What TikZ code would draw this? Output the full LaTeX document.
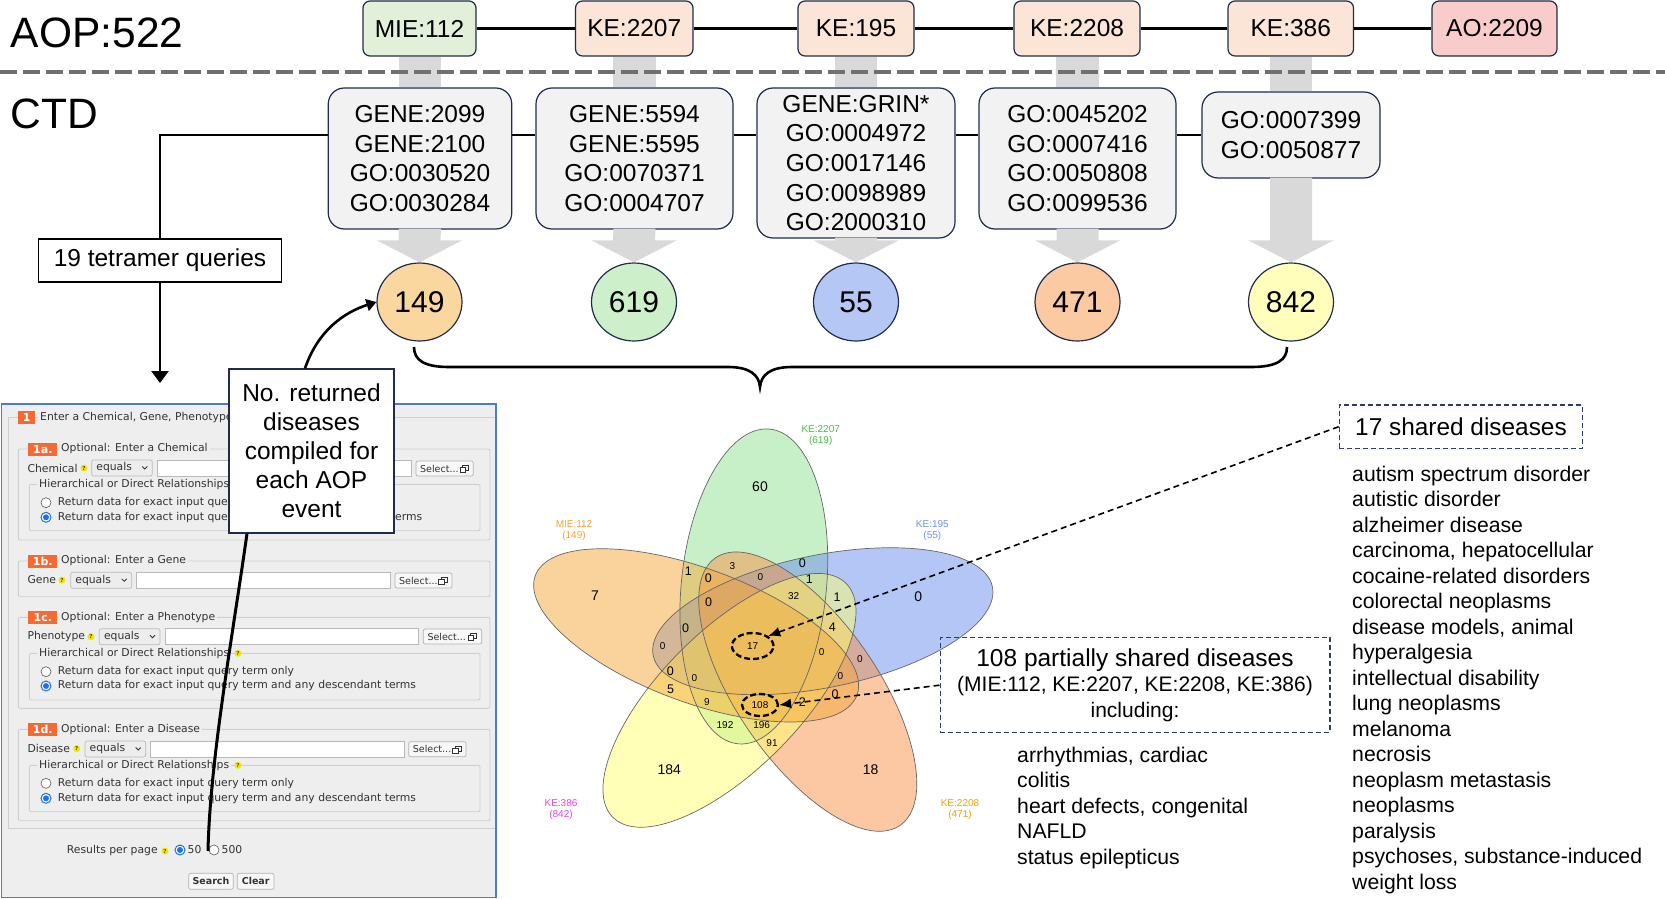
\documentclass[tikz,border=0pt]{standalone}
\usepackage{fontspec}
\setmainfont{Liberation Sans}
\newfontfamily\formfont{DejaVu Sans}
\usetikzlibrary{shapes.geometric,arrows.meta,calc}
\definecolor{navy}{HTML}{1F2D4D}
\definecolor{dnavy}{HTML}{2E3D66}
\definecolor{mieg}{HTML}{E2F0D9}
\definecolor{kepe}{HTML}{FBE5D6}
\definecolor{aopk}{HTML}{F9CCCC}
\definecolor{ctdg}{HTML}{F2F2F2}
\definecolor{garr}{HTML}{D9D9D9}
\definecolor{dashg}{HTML}{707070}
\definecolor{c149}{HTML}{FAD79F}
\definecolor{c619}{HTML}{CDF0CA}
\definecolor{c55}{HTML}{B5C8F5}
\definecolor{c471}{HTML}{FBC9A2}
\definecolor{c842}{HTML}{FFFFBB}
\definecolor{vmie}{HTML}{F5A83A}
\definecolor{vgreen}{HTML}{91E191}
\definecolor{vblue}{HTML}{698DED}
\definecolor{vyel}{HTML}{FFFF71}
\definecolor{vpea}{HTML}{F79147}
\definecolor{lmie}{HTML}{F5A030}
\definecolor{lgreen}{HTML}{44C044}
\definecolor{lblue}{HTML}{6F90EF}
\definecolor{lmag}{HTML}{E840E8}
\definecolor{lgold}{HTML}{E3A40C}
\definecolor{formbg}{HTML}{EEEEEE}
\definecolor{formblue}{HTML}{4A7CD2}
\definecolor{tagor}{HTML}{F46A32}
\definecolor{fsline}{HTML}{CFCFCF}
\definecolor{radioblue}{HTML}{1A73E8}
\definecolor{qyel}{HTML}{F2E600}
\definecolor{fgray}{HTML}{333333}
\newcommand{\RadioOff}[2]{\draw[gray!70!black,line width=0.6pt,fill=white] (#1,#2) circle[radius=5];}
\newcommand{\RadioOn}[2]{\draw[radioblue,line width=1pt,fill=white] (#1,#2) circle[radius=5];\fill[radioblue] (#1,#2) circle[radius=3];}
\newcommand{\DropD}[4]{\draw[fdd] (#2,#3) rectangle (#4,{#3+16});
  \node[ft] (#1) at ({#2+4.5},{#3+8}) {equals};
  \draw[fgray,line width=0.8pt] ({#4-10},{#3+6.5}) -- ({#4-7.5},{#3+9}) -- ({#4-5},{#3+6.5});}
\newcommand{\SelectBtn}[4]{\draw[fbtn] (#2,#3) rectangle (#4,{#3+15});
  \node[ft,font=\formfont\fontsize{9.5}{10}\selectfont] (#1) at ({#2+4},{#3+7.5}) {Select...};
  \draw[fgray,line width=0.6pt] ({#4-11},{#3+4.5}) rectangle ({#4-5},{#3+9.5});
  \draw[fgray,fill=white,line width=0.6pt] ({#4-13.5},{#3+6.5}) rectangle ({#4-8},{#3+11.5});}
\begin{document}
\begin{tikzpicture}[x=1pt,y=-1pt,
  fA/.style={font=\fontsize{24.5}{29.7}\selectfont},
  topbox/.style={draw=navy,line width=1.2pt,rounded corners=7pt,minimum height=55pt,inner sep=0pt,fA},
  ctdbox/.style={draw=navy,line width=1.2pt,rounded corners=16pt,fill=ctdg,inner sep=0pt,align=center,fA},
  conn/.style={line width=2.6pt,draw=black},
  cnt/.style={ellipse,draw=navy,line width=1.2pt,minimum width=85pt,minimum height=78pt,inner sep=0pt,font=\fontsize{30}{30}\selectfont},
  garrow/.style={fill=garr},
  vline/.style={draw=black!60,line width=0.7pt},
  vlab/.style={align=center,inner sep=0pt,font=\fontsize{10}{10.7}\selectfont},
  dell/.style={ellipse,draw=black,line width=2.3pt,dash pattern=on 6pt off 3pt,inner sep=0pt,font=\fontsize{10}{10}\selectfont},
  dbox/.style={draw=dnavy,line width=1.3pt,dash pattern=on 5pt off 3pt,inner sep=0pt},
  darrow/.style={draw=black,line width=1.6pt,dash pattern=on 6pt off 4pt,-{Latex[length=12pt,width=10pt]}},
  dlist/.style={anchor=base west,inner sep=0pt,font=\fontsize{21.2}{25.5}\selectfont},
  ft/.style={anchor=west,inner sep=0pt,text=fgray,font=\formfont\fontsize{10.8}{12}\selectfont},
  fleg/.style={ft,fill=formbg,inner xsep=2pt,inner ysep=0pt},
  ftag/.style={fill=tagor,text=white,inner sep=0pt,minimum height=13pt,font=\formfont\bfseries\fontsize{11}{11}\selectfont},
  fs/.style={draw=fsline,line width=0.9pt,rounded corners=2pt},
  fdd/.style={draw=gray!55,fill=gray!14,line width=0.7pt,rounded corners=2pt},
  finp/.style={draw=gray!55,fill=white,line width=0.7pt},
  fbtn/.style={draw=gray!60,fill=gray!6,line width=0.7pt,rounded corners=2pt},
  qm/.style={circle,fill=qyel,inner sep=0pt,minimum size=7pt,text=black!70,font=\formfont\bfseries\fontsize{5.5}{5.5}\selectfont},
]
\useasboundingbox (0,0) rectangle (1665,899);

% ---------- titles ----------
\node[anchor=base west,inner sep=0pt,font=\fontsize{42.5}{42.5}\selectfont] (aop) at (10.6,48) {AOP:522};
\node[anchor=base west,inner sep=0pt,font=\fontsize{42.5}{42.5}\selectfont] (ctd) at (10.6,128) {CTD};

% ---------- top AOP row ----------
\node[topbox,fill=mieg,minimum width=113pt] (t1) at (419.5,28.5) {MIE:112};
\node[topbox,fill=kepe,minimum width=117.5pt] (t2) at (634.25,28.5) {KE:2207};
\node[topbox,fill=kepe,minimum width=116pt] (t3) at (856,28.5) {KE:195};
\node[topbox,fill=kepe,minimum width=126pt] (t4) at (1077,28.5) {KE:2208};
\node[topbox,fill=kepe,minimum width=125.5pt] (t5) at (1290.75,28.5) {KE:386};
\node[topbox,fill=aopk,minimum width=125pt] (t6) at (1494.5,28.5) {AO:2209};
\draw[conn] (t1) -- (t2);
\draw[conn] (t2) -- (t3);
\draw[conn] (t3) -- (t4);
\draw[conn] (t4) -- (t5);
\draw[conn] (t5) -- (t6);

% ---------- CTD boxes ----------
\node[ctdbox,minimum width=183.5pt,minimum height=141pt] (c1) at (420,158.5) {GENE:2099\\GENE:2100\\GO:0030520\\GO:0030284};
\node[ctdbox,minimum width=197pt,minimum height=141pt] (c2) at (634.5,158.5) {GENE:5594\\GENE:5595\\GO:0070371\\GO:0004707};
\node[ctdbox,minimum width=198pt,minimum height=150pt] (c3) at (856,163) {GENE:GRIN*\\GO:0004972\\GO:0017146\\GO:0098989\\GO:2000310};
\node[ctdbox,minimum width=197pt,minimum height=141pt] (c4) at (1077.5,158.5) {GO:0045202\\GO:0007416\\GO:0050808\\GO:0099536};
\node[ctdbox,minimum width=178pt,minimum height=86pt] (c5) at (1291,135) {GO:0007399\\GO:0050877};

% ---------- count circles ----------
\node[cnt,fill=c149] (n1) at (419.5,302) {149};
\node[cnt,fill=c619] (n2) at (634,302) {619};
\node[cnt,fill=c55] (n3) at (856,302) {55};
\node[cnt,fill=c471] (n4) at (1077.5,302) {471};
\node[cnt,fill=c842] (n5) at (1291,302) {842};

% ---------- grey block arrows ----------
\foreach \i in {1,...,5}{
  \fill[garrow] ($(t\i.south)+(-21,0)$) rectangle ($(c\i.north)+(21,0)$);
  \fill[garrow] ($(c\i.south)+(-21,-1)$) -- ($(n\i.north)+(-21,-22)$) -- ($(n\i.north)+(-42.5,-22)$) -- (n\i.north)
     -- ($(n\i.north)+(42.5,-22)$) -- ($(n\i.north)+(21,-22)$) -- ($(c\i.south)+(21,-1)$) -- cycle;
}
\draw[dashg,line width=4pt,dash pattern=on 17pt off 6pt] (0,72) -- (1665,72);

% ---------- query line ----------
\node[draw=black,line width=1.2pt,minimum width=243pt,minimum height=43pt,inner sep=0pt,fA] (tq) at (160,260.5) {19 tetramer queries};
\coordinate (corner) at (160,135);
\coordinate (formtop) at (160,383);
\draw[conn] (tq.north) -- (corner) -- (corner -| c1.west);
\draw[conn] (c1.east |- corner) -- (c2.west |- corner);
\draw[conn] (c2.east |- corner) -- (c3.west |- corner);
\draw[conn] (c3.east |- corner) -- (c4.west |- corner);
\draw[conn] (c4.east |- corner) -- (c5.west);
\draw[conn,-{Triangle[width=17pt,length=12pt]}] (tq.south) -- (formtop);

% ---------- brace ----------
\draw[line width=2.6pt] (414,347) .. controls (414,360) and (424,367) .. (449,367) -- (728,367)
  .. controls (750,367) and (759,375) .. (760,387) .. controls (761,375) and (770,367) .. (792,367)
  -- (1251,367) .. controls (1277,367) and (1287,360) .. (1287,347);

% ---------- CTD form screenshot ----------
\draw[formblue,fill=formbg,line width=1.5pt] (1.5,404) rectangle (496,897.5);
\draw[fs,rounded corners=0pt] (495,417.3) -- (8.3,417.3) -- (8.3,828.3) -- (495,828.3);
\node[ftag,minimum width=16.7pt] (tg1) at (26.7,417.3) {1};
\node[fleg] (lg1) at (38,417.3) {Enter a Chemical, Gene, Phenotype};
% 1a
\draw[fs] (18.3,449) rectangle (490,540);
\node[ftag,minimum width=29pt] (tg1a) at (42.8,449.5) {1a.};
\node[fleg] (lg1a) at (59,449) {Optional: Enter a Chemical};
\node[ft] (lb1a) at (27.3,468) {Chemical};
\node[qm] (q1a) at (84,468) {?};
\DropD{dd1a}{91.7}{460}{152.3}
\draw[finp] (157.3,460) rectangle (411.7,476);
\SelectBtn{sb1a}{416}{461}{473.3}
\draw[fs] (29.3,484.3) rectangle (480,530.7);
\node[fleg] (hr1a) at (37,484.3) {Hierarchical or Direct Relationships};
\RadioOff{46}{502.7}
\node[ft] (r1a1) at (57.7,502.7) {Return data for exact input que};
\RadioOn{46}{517.3}
\node[ft] (r1a2) at (57.7,517.3) {Return data for exact input que};
\node[ft] (r1a3) at (395,517.3) {erms};
% 1b
\draw[fs] (18.3,561) rectangle (490,596.7);
\node[ftag,minimum width=29pt] (tg1b) at (42.8,561) {1b.};
\node[fleg] (lg1b) at (59,561) {Optional: Enter a Gene};
\node[ft] (lb1b) at (27.3,580) {Gene};
\node[qm] (q1b) at (62,580) {?};
\DropD{dd1b}{70.7}{572.3}{131.7}
\draw[finp] (136,572.3) rectangle (390,588.3);
\SelectBtn{sb1b}{395}{573}{452}
% 1c
\draw[fs] (18.3,617.3) rectangle (490,708.3);
\node[ftag,minimum width=29pt] (tg1c) at (42.8,617.5) {1c.};
\node[fleg] (lg1c) at (59,617.3) {Optional: Enter a Phenotype};
\node[ft] (lb1c) at (27.3,636.7) {Phenotype};
\node[qm] (q1c) at (91,636.7) {?};
\DropD{dd1c}{99.3}{628.7}{160}
\draw[finp] (165,628.7) rectangle (418.3,644.7);
\SelectBtn{sb1c}{423.3}{629}{481.7}
\draw[fs] (29.3,653.3) rectangle (480,700);
\node[fleg] (hr1c) at (37,653.3) {Hierarchical or Direct Relationships};
\node[qm] (qh1c) at (238,653.3) {?};
\RadioOff{46}{671.7}
\node[ft] (r1c1) at (57.7,671.7) {Return data for exact input query term only};
\RadioOn{46}{686}
\node[ft] (r1c2) at (57.7,686) {Return data for exact input query term and any descendant terms};
% 1d
\draw[fs] (18.3,729.3) rectangle (490,820.7);
\node[ftag,minimum width=29pt] (tg1d) at (42.8,729.7) {1d.};
\node[fleg] (lg1d) at (59,729.3) {Optional: Enter a Disease};
\node[ft] (lb1d) at (27.3,748.7) {Disease};
\node[qm] (q1d) at (76.7,748.7) {?};
\DropD{dd1d}{85}{741}{145.7}
\draw[finp] (150,741) rectangle (404,757);
\SelectBtn{sb1d}{408.7}{741.7}{466}
\draw[fs] (29.3,765.3) rectangle (480,811.7);
\node[fleg] (hr1d) at (37,765.3) {Hierarchical or Direct Relationships};
\node[qm] (qh1d) at (238,765.3) {?};
\RadioOff{46}{783.3}
\node[ft] (r1d1) at (57.7,783.3) {Return data for exact input query term only};
\RadioOn{46}{798.3}
\node[ft] (r1d2) at (57.7,798.3) {Return data for exact input query term and any descendant terms};
% results
\node[ft] (rpp1) at (66.7,851) {Results per page};
\node[qm] (qrp) at (165,851) {?};
\RadioOn{180}{850}
\node[ft] (rp50) at (187.5,850) {50};
\RadioOff{214}{850}
\node[ft] (rp500) at (221.5,850) {500};
\draw[fbtn] (188.7,873.3) rectangle (233.3,889.3);
\node[inner sep=0pt,text=fgray,font=\formfont\bfseries\fontsize{9.5}{10}\selectfont] (bsearch) at (211,881.3) {Search};
\draw[fbtn] (237.3,873.3) rectangle (274,889.3);
\node[inner sep=0pt,text=fgray,font=\formfont\bfseries\fontsize{9.5}{10}\selectfont] (bclear) at (255.7,881.3) {Clear};

% ---------- callout ----------
\node[draw=navy,line width=1.2pt,fill=white,minimum width=165pt,minimum height=164pt,inner sep=0pt,align=center,font=\fontsize{24.5}{29}\selectfont] (callout) at (311.5,451) {No. returned\\diseases\\compiled for\\each AOP\\event};
\draw[line width=2.6pt,-{Triangle[width=12pt,length=10pt]}] ($(callout.north)+(-6.5,0)$) .. controls (318,330) and (345,312) .. (n1.west);
\coordinate (rpt) at (208,851);
\draw[line width=3pt] ($(callout.south)+(-64.5,0)$) .. controls (232,640) and (210,760) .. (rpt);

% ---------- Venn diagram ----------
\begin{scope}[shift={(762,647)},xscale=1.1,x=1pt,y=1pt]
  \foreach \a/\col in {97/vgreen,25/vblue,313/vpea,241/vyel,169/vmie}{
    \fill[\col,fill opacity=0.5,rotate around={\a-12:({61*cos(\a)},{61*sin(\a)})}]
      ({61*cos(\a)},{61*sin(\a)}) ellipse [x radius=158,y radius=66];
  }
  \foreach \a in {97,169,241,313,25}{
    \draw[vline,rotate around={\a-12:({61*cos(\a)},{61*sin(\a)})}]
      ({61*cos(\a)},{61*sin(\a)}) ellipse [x radius=158,y radius=66];
  }
\end{scope}
\foreach \nx/\ny/\nt/\ns [count=\i] in {
  760/486.7/60/14, 595/595.7/7/14, 918.3/596.7/0/14, 669.3/769.3/184/14, 870.7/769.3/18/14,
  688.3/570.7/1/12.5, 802.3/563.3/0/12.5, 708.3/578.3/0/12.5, 809.3/579.3/1/12.5, 837/597/1/12.5,
  708.7/601.7/0/12.5, 685.7/628/0/12.5, 832.3/626.7/4/12.5, 670.3/671.3/0/12.5, 670.7/689/5/12.5,
  835/694/0/12.5, 802.3/701.7/2/12.5,
  732.3/565.7/3/10, 760.3/576.7/0/10, 793.7/596/32/10, 662.7/646/0/10, 821.7/652/0/10,
  860/658.7/0/10, 694.3/678/0/10, 840.3/675.7/0/10, 707/702/9/10, 725/725.3/192/10,
  761.7/725.3/196/10, 772/742.7/91/10}{
  \node[inner sep=0pt,font=\fontsize{\ns}{\ns}\selectfont] (vn\i) at (\nx,\ny) {\nt};
}
\node[vlab,text=lgreen] (lab2207) at (820.7,435.5) {KE:2207\\(619)};
\node[vlab,text=lmie] (lab112) at (574,530.5) {MIE:112\\(149)};
\node[vlab,text=lblue] (lab195) at (932.3,530.5) {KE:195\\(55)};
\node[vlab,text=lmag] (lab386) at (561,809.5) {KE:386\\(842)};
\node[vlab,text=lgold] (lab2208) at (960,809.5) {KE:2208\\(471)};
\node[dell,minimum width=41.6pt,minimum height=26pt] (e17) at (752.7,646) {17};
\node[dell,minimum width=36pt,minimum height=22pt] (e108) at (760,705) {108};

% ---------- shared disease boxes ----------
\node[dbox,minimum width=243.3pt,minimum height=43.3pt,font=\fontsize{24.4}{24.4}\selectfont] (b17) at (1461,426.7) {17 shared diseases};
\node[dbox,minimum width=389.7pt,minimum height=95pt,align=center,font=\fontsize{21}{25.5}\selectfont] (b108) at (1135,685.2)
  {{\fontsize{24.5}{25.5}\selectfont 108 partially shared diseases}\\(MIE:112, KE:2207, KE:2208, KE:386)\\including:};
\draw[darrow] (b17.west) -- (e17.north east);
\draw[darrow] (b108.west) -- (e108.east);

\foreach \t [count=\i] in {autism spectrum disorder, autistic disorder, alzheimer disease,
  {carcinoma, hepatocellular}, cocaine-related disorders, colorectal neoplasms,
  {disease models, animal}, hyperalgesia, intellectual disability, lung neoplasms,
  melanoma, necrosis, neoplasm metastasis, neoplasms, paralysis,
  {psychoses, substance-induced}, weight loss}{
  \node[dlist] (sd\i) at (1352,{481+25.5*(\i-1)}) {\t};
}
\foreach \t [count=\i] in {{arrhythmias, cardiac}, colitis, {heart defects, congenital}, NAFLD, status epilepticus}{
  \node[dlist] (pd\i) at (1017,{762+25.5*(\i-1)}) {\t};
}
\end{tikzpicture}
\end{document}
